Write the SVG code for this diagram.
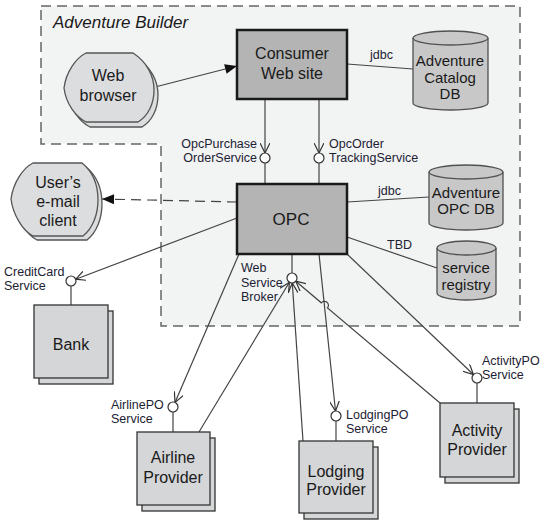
<svg xmlns="http://www.w3.org/2000/svg" width="541" height="525" viewBox="0 0 541 525">
<defs>
<style>
text{font-family:"Liberation Sans",Arial,sans-serif;fill:#1a1a1a}
.big{font-size:16px;text-anchor:middle}
.db{font-size:15px;text-anchor:middle}
.sm{font-size:12.5px;fill:#1c2233}
.comp{fill:#b4b4b4;stroke:#1a1a1a;stroke-width:2.5}
.prov{fill:#d5d6d8;stroke:#333;stroke-width:1.3}
.cyl{fill:#c8c8c8;stroke:#505050;stroke-width:1.3}
.ext{fill:#dcdddf;stroke:#555;stroke-width:1.3}
.ln{fill:none;stroke:#444;stroke-width:1.2}
.lol{fill:#fff;stroke:#333;stroke-width:1.2}
</style>
<marker id="vee" viewBox="0 0 10 10" refX="10" refY="5" markerWidth="10" markerHeight="10" markerUnits="userSpaceOnUse" orient="auto">
<path d="M0,0 L10,5 L0,10" fill="none" stroke="#333" stroke-width="1.2"/>
</marker>
<marker id="tri" viewBox="0 0 12 10" refX="12" refY="5" markerWidth="13" markerHeight="10" markerUnits="userSpaceOnUse" orient="auto">
<path d="M0,0 L12,5 L0,10 Z" fill="#111"/>
</marker>
<path id="browser" d="M64,88 C66,72 76,58 86,53 L133,53 C147,62 154,76 154,90 C154,104 148,116 138,122 L86,122 C76,117 66,104 64,88 Z"/>
<path id="email" d="M11,199 C13,183 23,168 33,163 L82,163 C93,172 98,186 98,200 C98,214 93,228 83,236 L33,236 C23,231 13,215 11,199 Z"/>
</defs>

<g id="adventure-builder">
<path d="M41,6 H520 V326 H161 V144 H41 Z" fill="#f2f3f3" stroke="#666" stroke-width="1.5" stroke-dasharray="10,6"/>
<text x="53" y="28" style="font-size:17px;font-style:italic">Adventure Builder</text>
</g>

<g id="connectors">
<line class="ln" x1="155" y1="87" x2="237" y2="66" marker-end="url(#tri)"/>
<line class="ln" x1="347" y1="64" x2="413" y2="69"/>
<text class="sm" x="370" y="59">jdbc</text>
<line class="ln" x1="265" y1="99" x2="265" y2="153" marker-end="url(#vee)"/>
<line class="ln" x1="265" y1="163" x2="265" y2="184"/>
<line class="ln" x1="319" y1="99" x2="319" y2="153" marker-end="url(#vee)"/>
<line class="ln" x1="319" y1="163" x2="319" y2="184"/>
<line class="ln" x1="347" y1="202" x2="429" y2="197"/>
<text class="sm" x="378" y="195">jdbc</text>
<line class="ln" x1="347" y1="237" x2="437" y2="268"/>
<text class="sm" x="387" y="249">TBD</text>
<line class="ln" x1="237" y1="202" x2="102" y2="199" stroke-dasharray="10,6" marker-end="url(#tri)"/>
<line class="ln" x1="237" y1="218" x2="75.7" y2="279.2" marker-end="url(#vee)"/>
<line class="ln" x1="71" y1="286" x2="71" y2="305"/>
<line class="ln" x1="292" y1="254" x2="292" y2="273"/>
<line class="ln" x1="239" y1="254" x2="175" y2="402.4" marker-end="url(#vee)"/>
<line class="ln" x1="173" y1="412" x2="173" y2="432"/>
<line class="ln" x1="319" y1="254" x2="335.5" y2="411" marker-end="url(#vee)"/>
<line class="ln" x1="336" y1="421" x2="336" y2="441"/>
<line class="ln" x1="347" y1="254" x2="473.4" y2="374.5" marker-end="url(#vee)"/>
<line class="ln" x1="477" y1="383" x2="477" y2="403"/>
<line class="ln" x1="199" y1="432" x2="289.4" y2="282.3" marker-end="url(#vee)"/>
<line class="ln" x1="303" y1="441" x2="292.3" y2="283" marker-end="url(#vee)"/>
<path class="ln" d="M440,403 L327.5,308 A4,4 0 0 0 321.3,302.8 L295.8,281.2" marker-end="url(#vee)"/>
<circle class="lol" cx="265" cy="158" r="5"/>
<circle class="lol" cx="319" cy="158" r="5"/>
<circle class="lol" cx="292" cy="278" r="5"/>
<circle class="lol" cx="71" cy="281" r="5"/>
<circle class="lol" cx="173" cy="407" r="5"/>
<circle class="lol" cx="336" cy="416" r="5"/>
<circle class="lol" cx="477" cy="378" r="5"/>
<text class="sm" x="257" y="148" text-anchor="end">OpcPurchase</text>
<text class="sm" x="257" y="162" text-anchor="end">OrderService</text>
<text class="sm" x="329" y="148">OpcOrder</text>
<text class="sm" x="329" y="162">TrackingService</text>
<text class="sm" x="241" y="272">Web</text>
<text class="sm" x="241" y="287">Service</text>
<text class="sm" x="241" y="301">Broker</text>
<text class="sm" x="4" y="276">CreditCard</text>
<text class="sm" x="4" y="290">Service</text>
<text class="sm" x="111" y="409">AirlinePO</text>
<text class="sm" x="111" y="423">Service</text>
<text class="sm" x="346" y="419">LodgingPO</text>
<text class="sm" x="346" y="433">Service</text>
<text class="sm" x="482" y="365">ActivityPO</text>
<text class="sm" x="482" y="379">Service</text>
</g>

<g id="web-browser">
<use href="#browser" class="ext" transform="translate(4,5)"/>
<use href="#browser" class="ext"/>
<text class="big" x="108" y="81">Web</text>
<text class="big" x="108" y="101">browser</text>
</g>

<g id="consumer-web-site">
<rect class="comp" x="237" y="30" width="110" height="69"/>
<text class="big" x="292" y="59">Consumer</text>
<text class="big" x="292" y="79">Web site</text>
</g>

<g id="adventure-catalog-db">
<path class="cyl" d="M413,38 V103 A37.5,7 0 0 0 488,103 V38"/>
<ellipse class="cyl" cx="450.5" cy="38" rx="37.5" ry="7"/>
<text class="db" x="450" y="66">Adventure</text>
<text class="db" x="450" y="83">Catalog</text>
<text class="db" x="450" y="99">DB</text>
</g>

<g id="opc">
<rect class="comp" x="237" y="184" width="110" height="70"/>
<text class="big" x="291" y="225" style="font-size:17px">OPC</text>
</g>

<g id="adventure-opc-db">
<path class="cyl" d="M429,172 V223 A37,7 0 0 0 503,223 V172"/>
<ellipse class="cyl" cx="466" cy="172" rx="37" ry="7"/>
<text class="db" x="466" y="198">Adventure</text>
<text class="db" x="466" y="214">OPC DB</text>
</g>

<g id="service-registry">
<path class="cyl" d="M437,248 V293 A29.5,7 0 0 0 496,293 V248"/>
<ellipse class="cyl" cx="466.5" cy="248" rx="29.5" ry="7"/>
<text class="db" x="466" y="273">service</text>
<text class="db" x="466" y="290">registry</text>
</g>

<g id="email-client">
<use href="#email" class="ext" transform="translate(4,4)"/>
<use href="#email" class="ext"/>
<text class="big" x="58" y="188">User’s</text>
<text class="big" x="58" y="207">e-mail</text>
<text class="big" x="58" y="226">client</text>
</g>

<g id="bank">
<rect class="prov" x="39" y="311" width="74" height="73"/>
<rect class="prov" x="34" y="305" width="74" height="73"/>
<text class="big" x="71" y="350">Bank</text>
</g>

<g id="airline-provider">
<rect class="prov" x="142" y="438" width="73" height="73"/>
<rect class="prov" x="137" y="432" width="73" height="73"/>
<text class="big" x="173" y="463">Airline</text>
<text class="big" x="173" y="483">Provider</text>
</g>

<g id="lodging-provider">
<rect class="prov" x="304" y="447" width="74" height="72"/>
<rect class="prov" x="299" y="441" width="74" height="72"/>
<text class="big" x="336" y="477">Lodging</text>
<text class="big" x="336" y="495">Provider</text>
</g>

<g id="activity-provider">
<rect class="prov" x="445" y="409" width="74" height="74"/>
<rect class="prov" x="440" y="403" width="74" height="74"/>
<text class="big" x="477" y="436">Activity</text>
<text class="big" x="477" y="455">Provider</text>
</g>
</svg>
